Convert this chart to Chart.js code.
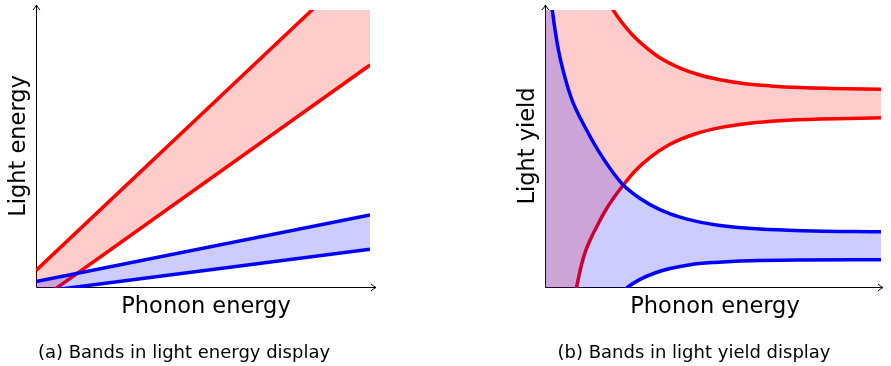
<!DOCTYPE html>
<html>
<head>
<meta charset="utf-8">
<script src="https://cdn.jsdelivr.net/npm/chart.js@4.4.0/dist/chart.umd.min.js"></script>
<style>
  html, body { margin: 0; padding: 0; background: #fff; }
  #wrap { position: relative; width: 891px; height: 366px; overflow: hidden; }
  canvas { position: absolute; top: 0; }
  #energyChart { left: 0; }
  #yieldChart { left: 445px; }
</style>
</head>
<body>
<div id="wrap">
  <canvas id="energyChart" width="445" height="366"></canvas>
  <canvas id="yieldChart" width="446" height="366"></canvas>
</div>
<script>
// (a) Light energy against phonon energy: each band edge is a straight line
const energyPhonon    = [0, 10];
const energyRedUpper  = [0.63, 11.97];
const energyRedLower  = [-0.53, 8.02];
const energyBlueUpper = [0.23, 2.63];
const energyBlueLower = [-0.15, 1.39];

// (b) Light yield against phonon energy: band edges sampled along each curve
const yieldRedUpperX  = [0, 1.03, 1.64, 2.03, 2.29, 2.59, 2.98, 3.42, 4.02, 4.61, 5.21, 5.95, 6.70, 7.59, 8.48, 10];
const yieldRedUpperY  = [18.0, 12.77, 10.85, 10.0, 9.55, 9.12, 8.68, 8.28, 7.91, 7.66, 7.49, 7.35, 7.27, 7.21, 7.18, 7.15];
const yieldRedLowerX  = [0, 0.40, 0.75, 0.935, 1.10, 1.22, 1.39, 1.58, 1.79, 2.02, 2.33, 2.68, 3.13, 3.72, 4.46, 5.21, 6.10, 6.99, 8.19, 10];
const yieldRedLowerY  = [-10, -4.5, -1.25, 0, 0.90, 1.37, 1.85, 2.30, 2.77, 3.20, 3.705, 4.21, 4.70, 5.17, 5.54, 5.77, 5.93, 6.02, 6.08, 6.12];
const yieldBlueUpperX = [0, 0.10, 0.217, 0.40, 0.60, 0.80, 1.19, 1.59, 1.99, 2.33, 2.83, 3.42, 4.02, 4.61, 5.21, 6.40, 7.68, 10];
const yieldBlueUpperY = [12.8, 11.3, 10.0, 8.56, 7.55, 6.78, 5.79, 4.93, 4.21, 3.705, 3.22, 2.82, 2.55, 2.37, 2.25, 2.12, 2.06, 2.02];
const yieldBlueLowerX = [0, 1.2, 2.0, 2.43, 2.83, 3.27, 3.72, 4.32, 5.06, 6.10, 7.59, 10];
const yieldBlueLowerY = [-7, -2.3, -0.55, 0, 0.31, 0.54, 0.70, 0.84, 0.92, 0.98, 1.01, 1.02];

const RED = '#ff0000';
const BLUE = '#0000ff';
const RED_FILL = 'rgba(255,0,0,0.2)';
const BLUE_FILL = 'rgba(0,0,255,0.2)';
const FONT = '"DejaVu Sans", "Liberation Sans", sans-serif';

const toPoints = (xs, ys) => xs.map((x, i) => ({ x: x, y: ys[i] }));

// Axes with open arrow heads, plus axis titles and the panel caption
const arrowAxes = {
  id: 'arrowAxes',
  beforeDatasetsDraw(chart, args, o) {
    const { ctx, chartArea: a } = chart;
    const x0 = a.left + 0.5, y0 = a.bottom - 0.5;
    ctx.save();
    ctx.strokeStyle = '#000';
    ctx.lineWidth = 1;
    ctx.beginPath();
    ctx.moveTo(x0, y0); ctx.lineTo(x0, o.topTip);
    ctx.moveTo(x0, y0); ctx.lineTo(o.rightTip, y0);
    ctx.stroke();
    ctx.beginPath();
    ctx.moveTo(x0 - 3.5, o.topTip + 5);
    ctx.quadraticCurveTo(x0 - 0.5, o.topTip + 1.5, x0, o.topTip);
    ctx.quadraticCurveTo(x0 + 0.5, o.topTip + 1.5, x0 + 3.5, o.topTip + 5);
    ctx.moveTo(o.rightTip - 5, y0 - 3.5);
    ctx.quadraticCurveTo(o.rightTip - 1.5, y0 - 0.5, o.rightTip, y0);
    ctx.quadraticCurveTo(o.rightTip - 1.5, y0 + 0.5, o.rightTip - 5, y0 + 3.5);
    ctx.stroke();
    ctx.restore();
  },
  afterDraw(chart, args, o) {
    const { ctx } = chart;
    ctx.save();
    ctx.fillStyle = '#000';
    ctx.textAlign = 'center';
    ctx.textBaseline = 'alphabetic';
    ctx.font = '22.5px ' + FONT;
    ctx.fillText(o.xTitle, o.xTitleX, o.xTitleY);
    ctx.save();
    ctx.translate(o.yTitleX, o.yTitleY);
    ctx.rotate(-Math.PI / 2);
    ctx.fillText(o.yTitle, 0, 0);
    ctx.restore();
    ctx.font = '18px ' + FONT;
    ctx.fillText(o.caption, o.captionX, o.captionY);
    ctx.restore();
  }
};

function bandDatasets(blueUpper, blueLower, redUpper, redLower, curved) {
  const common = {
    borderWidth: 3.5,
    pointRadius: 0,
    tension: 0,
    capBezierPoints: false,
    cubicInterpolationMode: curved ? 'monotone' : 'default'
  };
  // listed so that the red band is painted first and the blue band over it
  return [
    Object.assign({ label: 'blue upper', data: blueUpper, borderColor: BLUE, fill: '+1', backgroundColor: BLUE_FILL }, common),
    Object.assign({ label: 'blue lower', data: blueLower, borderColor: BLUE, fill: false }, common),
    Object.assign({ label: 'red upper', data: redUpper, borderColor: RED, fill: '+1', backgroundColor: RED_FILL }, common),
    Object.assign({ label: 'red lower', data: redLower, borderColor: RED, fill: false }, common)
  ];
}

function makeChart(id, datasets, padding, axesOpts) {
  return new Chart(document.getElementById(id), {
    type: 'line',
    data: { datasets: datasets },
    options: {
      responsive: false,
      animation: false,
      devicePixelRatio: 1,
      layout: { padding: padding },
      scales: {
        x: { type: 'linear', min: 0, max: 10, display: false },
        y: { type: 'linear', min: 0, max: 10, display: false }
      },
      plugins: {
        legend: { display: false },
        tooltip: { enabled: false },
        arrowAxes: axesOpts
      }
    },
    plugins: [arrowAxes]
  });
}

makeChart('energyChart',
  bandDatasets(
    toPoints(energyPhonon, energyBlueUpper),
    toPoints(energyPhonon, energyBlueLower),
    toPoints(energyPhonon, energyRedUpper),
    toPoints(energyPhonon, energyRedLower),
    false),
  { left: 36, right: 75, top: 10, bottom: 78 },
  {
    topTip: 5, rightTip: 376,
    xTitle: 'Phonon energy', xTitleX: 206, xTitleY: 313,
    yTitle: 'Light energy', yTitleX: 24.5, yTitleY: 146,
    caption: '(a) Bands in light energy display', captionX: 184, captionY: 358
  });

makeChart('yieldChart',
  bandDatasets(
    toPoints(yieldBlueUpperX, yieldBlueUpperY),
    toPoints(yieldBlueLowerX, yieldBlueLowerY),
    toPoints(yieldRedUpperX, yieldRedUpperY),
    toPoints(yieldRedLowerX, yieldRedLowerY),
    true),
  { left: 100, right: 10, top: 10, bottom: 78 },
  {
    topTip: 5, rightTip: 438,
    xTitle: 'Phonon energy', xTitleX: 270, xTitleY: 313,
    yTitle: 'Light yield', yTitleX: 88.5, yTitleY: 146,
    caption: '(b) Bands in light yield display', captionX: 249, captionY: 358
  });
</script>
</body>
</html>
